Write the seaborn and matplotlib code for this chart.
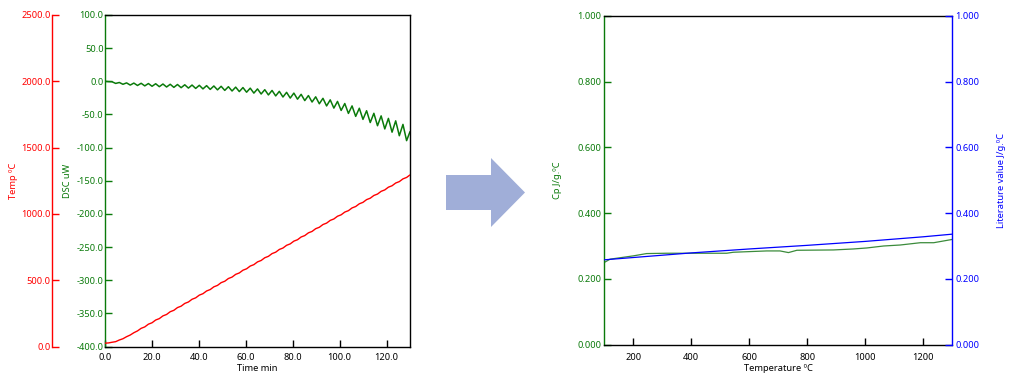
import matplotlib
matplotlib.use("Agg")
import matplotlib.pyplot as plt
import seaborn as sns
import pandas as pd
from matplotlib.patches import Polygon
from matplotlib.ticker import FormatStrFormatter, MultipleLocator

# ---------------- data ----------------
time_min = [0.0, 1.5, 3.0, 4.55, 6.1, 7.65, 9.2, 10.75, 12.3, 13.85, 15.4, 16.95,
            18.5, 20.05, 21.6, 23.15, 24.7, 26.25, 27.8, 29.35, 30.9, 32.45, 34.0,
            35.55, 37.1, 38.65, 40.2, 41.75, 43.3, 44.85, 46.4, 47.95, 49.5, 51.05,
            52.6, 54.15, 55.7, 57.25, 58.8, 60.35, 61.9, 63.45, 65.0, 66.55, 68.1,
            69.65, 71.2, 72.75, 74.3, 75.85, 77.4, 78.95, 80.5, 82.05, 83.6, 85.15,
            86.7, 88.25, 89.8, 91.35, 92.9, 94.45, 96.0, 97.55, 99.1, 100.65, 102.2,
            103.75, 105.3, 106.85, 108.4, 109.95, 111.5, 113.05, 114.6, 116.15, 117.7,
            119.25, 120.8, 122.35, 123.9, 125.45, 127.0, 128.55, 130.0]

dsc_uw = [0.0, -0.5, -0.7, -3.2, -1.8, -4.5, -2.4, -5.7, -2.7, -6.3, -3.0, -6.9,
          -3.4, -7.5, -3.7, -8.1, -4.1, -8.6, -4.5, -9.15, -4.85, -9.65, -5.25,
          -10.25, -5.65, -10.75, -6.05, -11.45, -6.55, -12.2, -7.05, -12.9, -7.55,
          -13.7, -8.15, -14.6, -8.8, -15.5, -9.45, -16.45, -10.35, -17.8, -11.5,
          -19.15, -12.65, -20.55, -13.8, -22.05, -15.15, -23.7, -16.65, -25.3, -17.8,
          -26.95, -19.65, -29.1, -21.5, -31.25, -23.4, -33.9, -25.65, -37.15, -28.0,
          -40.4, -30.35, -43.95, -33.5, -48.45, -37.1, -52.9, -40.65, -57.45, -44.4,
          -62.2, -48.25, -67.0, -52.15, -71.85, -55.95, -76.75, -59.65, -82.1, -65.0,
          -89.5, -76.0]

temp_c = [25, 27, 32, 36.5, 49, 58.5, 74, 86.5, 104, 117.5, 137.0, 147.7, 168.4,
          179.0, 199.7, 210.3, 231.0, 241.6, 262.3, 272.9, 293.6, 304.2, 324.9, 335.6,
          356.2, 366.9, 387.5, 398.2, 418.8, 429.5, 450.1, 460.8, 481.5, 492.1, 512.8,
          523.4, 544.1, 554.7, 575.4, 586.0, 606.7, 617.3, 638.0, 648.7, 669.3, 680.0,
          700.6, 711.3, 731.9, 742.6, 763.2, 773.9, 794.6, 805.2, 825.9, 836.5, 857.2,
          867.8, 888.5, 899.1, 919.8, 930.5, 951.1, 961.8, 982.4, 993.1, 1013.7, 1024.4,
          1045.0, 1055.7, 1076.3, 1087.0, 1107.7, 1118.3, 1139.0, 1149.6, 1170.3,
          1180.9, 1201.6, 1212.2, 1232.9, 1243.5, 1264.2, 1274.9, 1294.0]

cp_temp = [100, 120, 200, 246, 315, 430, 522, 545, 660, 706, 735, 764, 890, 959,
           1005, 1063, 1120, 1190, 1236, 1300]
cp_value = [0.250, 0.260, 0.270, 0.277, 0.278, 0.278, 0.278, 0.281, 0.285, 0.285,
            0.280, 0.287, 0.288, 0.291, 0.294, 0.300, 0.303, 0.310, 0.310, 0.320]

lit_temp = [100, 200, 400, 600, 800, 1000, 1200, 1300]
lit_value = [0.258, 0.265, 0.279, 0.291, 0.302, 0.314, 0.328, 0.336]

left_xticks = [0, 20, 40, 60, 80, 100, 120]
right_xticks = [200, 400, 600, 800, 1000, 1200]

# ---------------- style ----------------
sns.set_theme(style="white")
plt.rcParams['font.family'] = ['Noto Sans', 'DejaVu Sans']
FS = 6.7
GREEN = "#0a7a0a"
RED = "#ff0000"
BLUE = "#0000ff"
CPGREEN = "#3b8b3b"

W, H = 1019, 386
fig = plt.figure(figsize=(W / 100, H / 100), dpi=100)


def rect(x0, x1, ytop, ybot):
    return [x0 / W, 1 - ybot / H, (x1 - x0) / W, (ybot - ytop) / H]


dsc_df = pd.DataFrame({"t": time_min, "dsc": dsc_uw, "temp": temp_c})
cp_df = pd.DataFrame({"T": cp_temp, "cp": cp_value})
lit_df = pd.DataFrame({"T": lit_temp, "lit": lit_value})

# ---------------- left chart ----------------
ax1 = fig.add_axes(rect(105, 410, 15, 346.5))
ax1.set_facecolor("white")
sns.lineplot(data=dsc_df, x="t", y="dsc", ax=ax1, color=GREEN, lw=1.1,
             estimator=None, sort=False, solid_joinstyle="round")
ax1.set_xlim(0, 130)
ax1.set_ylim(-400, 100)
ax1.yaxis.set_major_locator(MultipleLocator(50))
ax1.yaxis.set_major_formatter(FormatStrFormatter("%.1f"))
ax1.set_xticks(left_xticks)
ax1.xaxis.set_major_formatter(FormatStrFormatter("%.1f"))
ax1.tick_params(axis="y", direction="in", length=5, width=1, color=GREEN,
                labelcolor=GREEN, pad=1, labelsize=FS, left=True)
ax1.tick_params(axis="x", direction="in", length=5, width=1, color="black",
                labelcolor="black", pad=4.5, labelsize=FS, bottom=True)
for s in ["top", "right", "bottom"]:
    ax1.spines[s].set_color("black")
    ax1.spines[s].set_linewidth(1)
ax1.spines["left"].set_color(GREEN)
ax1.spines["left"].set_linewidth(1)
ax1.set_xlabel("Time min", fontsize=FS, color="black", labelpad=1.5)
ax1.set_ylabel("DSC uW", fontsize=FS, color=GREEN)
ax1.yaxis.set_label_coords((71.5 - 105) / 305, 0.5)

ax2 = ax1.twinx()
sns.lineplot(data=dsc_df, x="t", y="temp", ax=ax2, color=RED, lw=1.0,
             estimator=None, sort=False)
ax2.set_ylim(0, 2500)
ax2.yaxis.set_major_locator(MultipleLocator(500))
ax2.yaxis.set_major_formatter(FormatStrFormatter("%.1f"))
ax2.yaxis.set_ticks_position("left")
ax2.yaxis.set_label_position("left")
ax2.spines["left"].set_position(("axes", (52 - 105) / 305))
ax2.spines["left"].set_visible(True)
ax2.spines["left"].set_color(RED)
ax2.spines["left"].set_linewidth(1)
for s in ["top", "right", "bottom"]:
    ax2.spines[s].set_visible(False)
ax2.tick_params(axis="y", direction="in", length=5, width=1, color=RED,
                labelcolor=RED, pad=1, labelsize=FS, left=True, right=False)
ax2.set_ylabel("Temp ºC", fontsize=FS, color=RED)
ax2.yaxis.set_label_coords((17.5 - 105) / 305, 0.5)

# ---------------- arrow ----------------
arrow_px = [(446, 175), (491, 175), (491, 158), (525, 192.5), (491, 227),
            (491, 210), (446, 210)]
fig.patches.append(Polygon([(x / W, 1 - y / H) for x, y in arrow_px],
                           closed=True, transform=fig.transFigure,
                           facecolor="#a0aed8", edgecolor="none"))

# ---------------- right chart ----------------
ax3 = fig.add_axes(rect(604.3, 952.3, 15.7, 344.7))
ax3.set_facecolor("white")
sns.lineplot(data=cp_df, x="T", y="cp", ax=ax3, color=CPGREEN, lw=0.9,
             estimator=None, sort=False)
ax3.set_xlim(100, 1300)
ax3.set_ylim(0, 1)
ax3.set_xticks(right_xticks)
ax3.xaxis.set_major_formatter(FormatStrFormatter("%d"))
ax3.yaxis.set_major_locator(MultipleLocator(0.2))
ax3.yaxis.set_major_formatter(FormatStrFormatter("%.3f"))
ax3.tick_params(axis="y", direction="in", length=5, width=1, color=GREEN,
                labelcolor=GREEN, pad=2, labelsize=FS, left=True)
ax3.tick_params(axis="x", direction="in", length=5, width=1, color="black",
                labelcolor="black", pad=6, labelsize=FS, bottom=True)
for s in ["top", "bottom"]:
    ax3.spines[s].set_color("black")
    ax3.spines[s].set_linewidth(1)
ax3.spines["left"].set_color(GREEN)
ax3.spines["left"].set_linewidth(1)
ax3.spines["right"].set_visible(False)
ax3.set_xlabel("Temperature ºC", fontsize=FS, color="black", labelpad=1.5)
ax3.set_ylabel("Cp J/g.ºC", fontsize=FS, color=GREEN)
ax3.yaxis.set_label_coords((561.5 - 604.3) / 348, 0.5)

ax4 = ax3.twinx()
sns.lineplot(data=lit_df, x="T", y="lit", ax=ax4, color=BLUE, lw=0.9,
             estimator=None, sort=False)
ax4.set_ylim(0, 1)
ax4.yaxis.set_major_locator(MultipleLocator(0.2))
ax4.yaxis.set_major_formatter(FormatStrFormatter("%.3f"))
ax4.tick_params(axis="y", direction="in", length=5, width=1, color=BLUE,
                labelcolor=BLUE, pad=2, labelsize=FS, right=True, left=False)
for s in ["top", "bottom", "left"]:
    ax4.spines[s].set_visible(False)
ax4.spines["right"].set_visible(True)
ax4.spines["right"].set_color(BLUE)
ax4.spines["right"].set_linewidth(1)
ax4.set_ylabel("Literature value J/g.ºC", fontsize=FS, color=BLUE)
ax4.yaxis.set_label_coords((997.5 - 604.3) / 348, 0.5)

fig.savefig("out.png", dpi=100, facecolor="white")
